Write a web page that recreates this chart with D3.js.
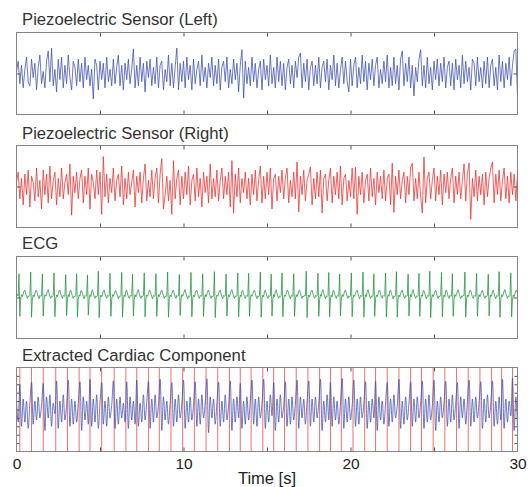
<!DOCTYPE html>
<html lang="en">
<head>
<meta charset="UTF-8">
<title>Piezoelectric sensors, ECG and extracted cardiac component</title>
<script src="https://cdn.jsdelivr.net/npm/d3@7"></script>
<style>
  body { margin: 0; background: #fff; }
  svg { display: block; font-family: "Liberation Sans", Arial, sans-serif; }
  .title { font-size: 16.7px; fill: #333; }
  .tick line { stroke: #555; }
</style>
</head>
<body>
<svg id="chart" width="529" height="487"></svg>
<script>
// panel titles and x tick labels
const panelTitles = ["Piezoelectric Sensor (Left)", "Piezoelectric Sensor (Right)", "ECG", "Extracted Cardiac Component"]
const xTickLabels = [0, 10, 20, 30]
const xMinorTicks = [5, 10, 15, 20, 25]
const xLabel = "Time [s]"

// left piezo sensor, one sample every 0.1 s (rows of 2 s)
const piezoLeft = [
  5, 30, -25, 20, -35, 10, 40, -20, -30, 35, -10, 25, -40, 15, 45, -25, 5, -35, 30, 55,
  -20, 62, -30, 10, -45, 35, -15, 40, -35, 20, -25, 45, -10, -40, 30, 15, -30, 35, -20, 25,
  -35, 40, -15, 20, -30, 10, -62, 35, 20, -40, 30, -15, 25, -35, 40, -20, 10, -30, 35, -25,
  15, 45, -30, 20, -40, 25, -15, 35, -25, 10, 60, -35, 20, -30, 40, -20, 25, -45, 30, -10,
  35, -30, 15, -25, 40, -35, 20, 30, -40, 10, -20, 45, -30, 25, -35, 15, 62, -40, 25, -20,
  30, -35, 40, -15, 20, -40, 35, -25, 10, 30, -30, 45, -20, 15, -35, 25, -10, 40, -30, 20,
  -25, 35, -40, 15, 30, -20, 40, -35, 10, -25, 35, -15, 25, -45, 20, 58, -60, 30, -25, 15,
  -30, 40, -20, 25, -35, 10, 30, -40, 35, -15, 20, -30, 45, -25, 15, -35, 40, -20, 30, -30,
  25, -40, 15, 35, -25, 20, -35, 30, -10, 40, 50, -35, 25, -20, 35, -40, 15, 30, -30, 20,
  -25, 40, -35, 15, 30, -20, 35, -40, 20, -15, 45, -30, 25, -35, 10, 40, -25, 30, -20, -45,
  35, -30, 20, 40, -35, 15, -25, 45, -20, 30, -40, 25, -15, 35, -30, 20, 40, -35, 10, -25,
  30, -20, 45, -35, 15, -30, 40, -25, 20, -40, 35, 55, -30, 25, -20, 40, -35, 20, -55, 15,
  -20, 35, 58, -30, 20, -35, 40, -25, 15, -40, 30, -15, 35, -30, 25, -20, 40, -35, 15, 30,
  -30, 25, -40, 35, -15, 20, -35, 45, -25, 30, -20, 15, -40, 35, 25, -30, 40, -20, 15, -35,
  30, -25, 40, -35, 20, 35, -30, 15, -40, 45, -20, 30, -35, 25, -15, 40, -30, 20, 55, 60,
  -58
]

// right piezo sensor, one sample every 0.1 s
const piezoRight = [
  10, 35, -30, 20, -45, 30, -20, 40, -50, 25, 10, -35, 45, -25, 15, -55, 40, -20, 30, -40,
  50, -30, 15, 35, -45, 20, -25, 45, -30, 10, 30, -20, 55, -70, 25, -15, 35, -30, 20, 40,
  -40, 25, -20, 45, -55, 30, 10, -30, 40, -20, 35, -68, 73, -25, 30, -40, 20, -15, 45, -35,
  15, 30, -25, 50, -45, 20, -30, 35, -20, 10, 40, -50, 25, -15, 35, -40, 20, 55, -35, 15,
  -25, 40, -30, 20, 45, -40, 30, 68, -55, -20, 25, -35, 15, -68, 63, -30, 20, 40, -45, 25,
  -30, 35, -20, 50, -45, 15, 30, -35, 45, -25, 20, -50, 35, -15, 25, -40, 55, -30, 20, -25,
  40, -35, 15, 45, -30, 25, -20, 35, -50, 63, -65, 30, -25, 45, -40, 20, -15, 35, -30, 20,
  -45, 30, -20, 40, -35, 15, 50, -40, 25, -30, 35, -20, 45, -55, 20, 30, -35, 25, -15, 40,
  -30, 20, 45, -40, 15, -25, 35, -30, 60, -62, 25, -20, 40, -35, 15, 30, 48, -45, 20, -30,
  35, -25, 40, -65, 20, 30, -35, 15, 45, -40, 25, -20, 35, -30, 50, -45, 20, 30, -35, 15,
  -25, 45, -30, 47, -68, 25, -20, 35, -40, 15, 30, -35, 45, -25, 20, -45, 35, -15, 25, -30,
  40, -35, 20, 30, -45, 57, -63, 25, -20, 40, -30, 15, 35, -40, 25, -20, 45, 57, -35, 20,
  -30, 35, -25, -65, 72, -40, 20, 35, -30, 15, 45, -35, 25, -20, 40, -45, 30, -15, 35, -30,
  20, 45, -40, 25, -20, 35, -30, 15, 55, -35, 30, 57, -80, 20, -25, 40, -35, 25, -20, 30,
  -45, 35, -25, 20, 45, 60, -40, 30, -20, 40, -35, 15, 45, -30, 25, -40, 35, -20, 30, -35,
  32
]

// ECG, one sample every 0.05 s; first row is before the first beat, then one row per beat starting at the R peak
const ecgBeats = [
  [5, 8, 3],
  [58, -46, -4, 7, 2, 8, 16, 18, 10, 3, -2, 4, 2, 5],
  [62, -48, -3, 6, 2, 9, 17, 17, 9, 2, -3, 5, 3, 4],
  [57, -45, -5, 7, 3, 8, 15, 19, 10, 3, -2, 4, 2, 5],
  [60, -47, -3, 6, 2, 9, 16, 18, 9, 2, -2, 5, 3, 4],
  [56, -44, -4, 7, 2, 15, 18, 10, 3, -2, 4, 2, 5],
  [58, -47, -3, 6, 3, 16, 17, 9, 2, -3, 5, 3, 4],
  [55, -43, -4, 7, 2, 15, 19, 10, 3, -2, 4, 2, 5],
  [64, -49, -3, 6, 2, 8, 16, 18, 9, 2, -2, 5, 3, 4],
  [59, -46, -5, 7, 3, 9, 15, 17, 10, 3, -3, 4, 2, 5],
  [61, -48, -3, 6, 2, 16, 18, 9, 2, -2, 5, 3, 4],
  [57, -45, -4, 7, 2, 8, 16, 19, 10, 3, -2, 4, 2, 5],
  [60, -47, -3, 6, 3, 9, 17, 17, 9, 2, -3, 5, 3, 4],
  [58, -46, -4, 7, 2, 8, 15, 18, 10, 3, -2, 4, 2, 5],
  [62, -48, -3, 6, 2, 9, 16, 18, 9, 2, -2, 5, 3, 4],
  [56, -44, -5, 7, 3, 8, 16, 19, 10, 3, -3, 4, 2, 5],
  [61, -47, -3, 6, 2, 9, 17, 17, 9, 2, -2, 5, 3, 4],
  [58, -46, -4, 7, 2, 8, 15, 18, 10, 3, -2, 4, 2, 5],
  [63, -49, -3, 6, 3, 9, 16, 18, 9, 2, -3, 5, 3, 4],
  [57, -45, -4, 7, 2, 8, 16, 19, 10, 3, -2, 4, 2, 5],
  [60, -47, -3, 6, 2, 16, 17, 9, 2, -2, 5, 3, 4],
  [59, -46, -5, 7, 3, 8, 15, 18, 10, 3, -3, 4, 2, 5],
  [62, -48, -3, 6, 2, 16, 18, 9, 2, -2, 5, 3, 4],
  [57, -45, -4, 7, 2, 15, 19, 10, 3, -2, 4, 2, 5],
  [60, -47, -3, 6, 3, 9, 17, 17, 9, 2, -3, 5, 3, 4],
  [58, -46, -4, 7, 2, 8, 16, 18, 10, 3, -2, 4, 2, 5, 4],
  [64, -49, -3, 6, 2, 9, 16, 18, 9, 2, -2, 5, 3, 4],
  [59, -46, -5, 7, 3, 15, 19, 10, 3, -3, 4, 2, 5],
  [61, -47, -3, 6, 2, 16, 17, 9, 2, -2, 5, 3, 4],
  [57, -45, -4, 7, 2, 8, 15, 18, 10, 3, -2, 4, 2, 5],
  [60, -47, -3, 6, 3, 9, 16, 18, 9, 2, -3, 5, 3, 4],
  [62, -48, -4, 7, 2, 16, 19, 10, 3, -2, 4, 2, 5],
  [58, -46, -3, 6, 2, 9, 17, 17, 9, 2, -2, 5, 3, 4],
  [60, -47, -5, 7, 3, 15, 18, 10, 3, -3, 4, 2, 5],
  [63, -48, -3, 6, 2, 9, 16, 18, 9, 2, -2, 5, 3, 4],
  [57, -45, -4, 7, 2, 16, 19, 10, 3, -2, 4, 2, 5],
  [59, -46, -3, 6, 3, 16, 17, 9, 2, -3, 5, 3, 4],
  [64, -49, -4, 7, 2, 8, 15, 18, 10, 3, -2, 4, 2, 5],
  [61, -47, -3, 6, 2, 16, 18, 9, 2, -2, 5, 3, 4],
  [58, -46, -5, 7, 3, 8, 16, 19, 10, 3, -3, 4, 2, 5, 4],
  [62, -48, -3, 6, 2, 9, 17, 17, 9, 2, -2, 5, 3, 4],
  [59, -46, -4, 7, 2, 8, 15, 18, 10, 3, -2, 4, 2, 5],
  [57, -45, -3, 6, 3, 16, 18, 9, 2, -3, 5, 3, 4],
  [63, -48, -4, 7, 2, 8, 16, 19, 10, 3, -2, 4, 2, 5],
  [60, -47, -3, 6, 2, 9, 17, 17, 9]
]
const ecg = ecgBeats.flat()

// extracted cardiac component, one sample every 0.1 s
const cardiac = [
  20, -30, 60, -40, 25, -30, 20, -45, 15, 65, -35, 20, -25, 30, -20, 10, 62, -50, 30, -20,
  35, -40, 15, -10, 68, -45, 20, -30, 35, -25, 10, 70, -40, 25, -35, 20, -30, 15, 66, -50,
  30, -25, 20, -35, 72, -40, 25, -30, 35, -45, 15, 64, -35, 20, -40, 30, -20, 10, 68, -45,
  25, -35, 30, -20, 15, -30, 66, -45, 30, -25, 20, -35, 70, -40, 15, -30, 35, -25, 20, 67,
  -45, 25, -30, 35, -20, 10, 72, -50, 30, -25, 20, -35, 15, 64, -40, 25, -30, 35, -20, 15,
  70, -45, 20, -30, 30, -25, 10, 66, -40, 25, -35, 35, -20, 15, 73, -55, 30, -20, 25, -35,
  15, 65, -40, 20, -30, 35, -25, 10, 68, -50, 25, -30, 30, -20, 62, -45, 20, -35, 30, -25,
  20, 70, -35, 25, -40, 30, -20, 15, 72, -45, 20, -30, 35, -15, 64, -50, 25, -30, 35, -20,
  10, 66, -40, 25, -35, 30, -25, 15, 70, -45, 30, -20, 25, -35, 20, 68, -40, 25, -30, 30,
  -20, 15, 72, -50, 20, -30, 35, -25, 65, -40, 30, -25, 20, -35, 15, 74, -45, 25, -30, 30,
  -25, 10, 70, -40, 25, -35, 30, -20, 15, 66, -45, 20, -30, 25, -20, 68, -50, 30, -25, 20,
  -35, 15, 64, -40, 25, -30, 35, -20, 10, 72, -45, 20, -35, 30, -25, 15, 66, -40, 25, -30,
  30, -20, 15, 68, -45, 25, -30, 35, -25, 10, 70, -50, 20, -30, 30, -20, 15, 67, -40, 25,
  -30, 35, -25, 15, 64, -45, 30, -20, 25, -35, 20, 70, -40, 25, -30, 30, -20, 15, 66, -45,
  25, -30, 35, -20, 15, 68, -40, 20, -35, 30, -25, 72, -45, 25, -30, 20, -15, 75, -50, 30,
  -45
]

// detected heart beats (s), drawn as red lines in the last panel
const beatTimes = [
  0.20, 0.90, 1.60, 2.35, 3.05, 3.75, 4.40, 5.10, 5.85, 6.55, 7.20, 7.90, 8.55, 9.25, 9.95,
  10.65, 11.35, 12.05, 12.75, 13.40, 14.05, 14.75, 15.40, 16.05, 16.75, 17.45, 18.15, 18.80,
  19.45, 20.15, 20.85, 21.50, 22.20, 22.90, 23.60, 24.25, 24.95, 25.65, 26.35, 27.05, 27.75,
  28.45, 29.05, 29.70
]

const svg = d3.select("#chart")
const x = d3.scaleLinear().domain([0, 30]).range([16.5, 517.5])

const panels = [
  {data: piezoLeft, step: 0.1, color: "#3e4fae", top: 32.5, bottom: 114.5, titleY: 25, yTicks: [0]},
  {data: piezoRight, step: 0.1, color: "#ec2f2f", top: 145.5, bottom: 227.5, titleY: 139, yTicks: [0]},
  {data: ecg, step: 0.05, color: "#22913f", top: 256.5, bottom: 338.5, titleY: 248.5, yTicks: [0]},
  {data: cardiac, step: 0.1, color: "#3e4fae", top: 367.5, bottom: 451.5, titleY: 360.5, yTicks: d3.range(-80, 81, 20)}
]

panels.forEach((p, i) => {
  const y = d3.scaleLinear().domain([-100, 100]).range([p.bottom, p.top])
  const g = svg.append("g")

  g.append("text")
    .attr("class", "title")
    .attr("x", 22)
    .attr("y", p.titleY)
    .text(panelTitles[i])

  g.append("clipPath")
    .attr("id", "clip" + i)
    .append("rect")
    .attr("x", x(0)).attr("y", p.top)
    .attr("width", x(30) - x(0)).attr("height", p.bottom - p.top)

  const plot = g.append("g").attr("clip-path", "url(#clip" + i + ")")

  // red beat markers only in the last panel
  if (i === 3) {
    plot.selectAll("line.beat")
      .data(beatTimes)
      .enter()
      .append("line")
      .attr("class", "beat")
      .attr("x1", d => x(d)).attr("x2", d => x(d))
      .attr("y1", p.top).attr("y2", p.bottom)
      .attr("stroke", "#f04848")
      .attr("stroke-opacity", 0.8)
      .attr("stroke-width", 1)
  }

  const line = d3.line()
    .x((d, j) => x(j * p.step))
    .y(d => y(d))
  if (i === 3) line.curve(d3.curveCatmullRom)

  plot.append("path")
    .datum(p.data)
    .attr("d", line)
    .attr("fill", "none")
    .attr("stroke", p.color)
    .attr("stroke-width", 0.85)
    .attr("stroke-opacity", 0.9)
    .attr("stroke-linejoin", "round")

  // inner ticks on all four sides
  const tickAxes = [
    [d3.axisBottom(x).tickValues(xMinorTicks), `translate(0,${p.top})`, 4],
    [d3.axisTop(x).tickValues(xMinorTicks), `translate(0,${p.bottom})`, 4],
    [d3.axisRight(y).tickValues(p.yTicks), `translate(${x(0)},0)`, i === 3 ? 3 : 4],
    [d3.axisLeft(y).tickValues(p.yTicks), `translate(${x(30)},0)`, i === 3 ? 3 : 4]
  ]
  tickAxes.forEach(([axis, tr, size]) => {
    const a = g.append("g")
      .attr("transform", tr)
      .call(axis.tickSize(size).tickFormat(""))
    a.select(".domain").remove()
  })

  g.append("rect")
    .attr("x", x(0)).attr("y", p.top)
    .attr("width", x(30) - x(0)).attr("height", p.bottom - p.top)
    .attr("fill", "none")
    .attr("stroke", "#858585")
    .attr("stroke-width", 1)
})

// x tick labels under the last panel
const bottomAxis = svg.append("g")
  .attr("transform", `translate(0,${panels[3].bottom})`)
  .call(d3.axisBottom(x).tickValues(xTickLabels).tickSize(0).tickPadding(6))
bottomAxis.select(".domain").remove()
bottomAxis.selectAll("text")
  .attr("font-size", "15.5px")
  .attr("font-family", "Liberation Sans, Arial, sans-serif")
  .attr("fill", "#222")

svg.append("text")
  .attr("x", (x(0) + x(30)) / 2)
  .attr("y", 484)
  .attr("text-anchor", "middle")
  .attr("font-size", "16.5px")
  .attr("fill", "#222")
  .text(xLabel)
</script>
</body>
</html>
